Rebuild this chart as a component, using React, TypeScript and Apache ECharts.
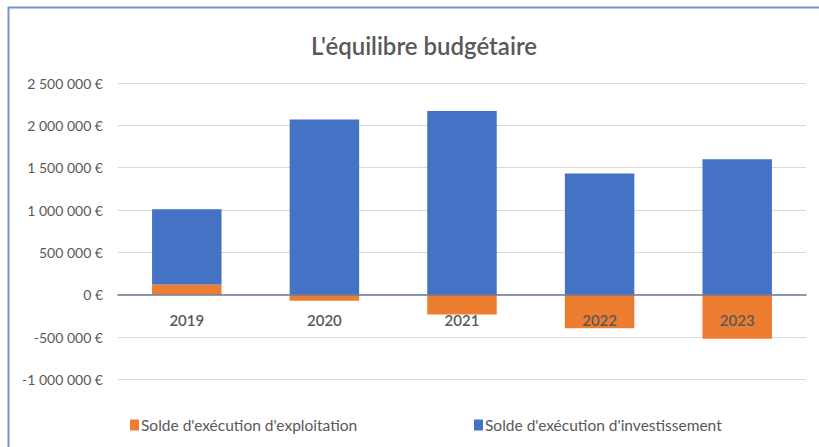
import React, { useEffect, useRef } from "react";
import * as echarts from "echarts";

const categories = ["2019", "2020", "2021", "2022", "2023"];
const exploitation = [120000, -70000, -235000, -395000, -520000];
const investissement = [890000, 2070000, 2170000, 1430000, 1600000];
const seriesNames = ["Solde d'exécution d'exploitation", "Solde d'exécution d'investissement"];
const titleText = "L'équilibre budgétaire";
const yMin = -1000000;
const yMax = 2500000;
const yStep = 500000;

const fmt = (v: number) => {
  const neg = v < 0;
  const s = Math.abs(v).toString().replace(/\B(?=(\d{3})+(?!\d))/g, " ");
  return (neg ? "-" : "") + s + " €";
};

export default function App() {
  const ref = useRef<HTMLDivElement>(null);
  useEffect(() => {
    if (!ref.current) return;
    const chart = echarts.init(ref.current, undefined, { renderer: "svg" });
    const font = "Lato, 'Noto Sans', sans-serif";
    const gridTop = 83;
    const gridBottom = 67.6;
    const gridH = 447 - gridTop - gridBottom;
    const zeroOffset = -gridH * (0 - yMin) / (yMax - yMin);
    chart.setOption({
      animation: false,
      backgroundColor: "#ffffff",
      textStyle: { fontFamily: font },
      title: {
        text: titleText,
        left: 419,
        textAlign: "center",
        top: 28,
        textStyle: { fontFamily: font, fontSize: 24, fontWeight: 600, color: "#595959" },
      },
      graphic: [
        {
          type: "rect",
          shape: { x: 8.5, y: 7.5, width: 900, height: 600 },
          style: { fill: "none", stroke: "#7395d8", lineWidth: 2 },
          silent: true,
        },
      ],
      legend: [
        {
          data: [seriesNames[0]],
          left: 125,
          top: 412,
          icon: "rect",
          itemWidth: 9,
          itemHeight: 11,
          textStyle: { fontFamily: font, fontSize: 15.5, color: "#595959", padding: [0, 0, 0, -3] },
        },
        {
          data: [seriesNames[1]],
          left: 469,
          top: 412,
          icon: "rect",
          itemWidth: 9,
          itemHeight: 11,
          textStyle: { fontFamily: font, fontSize: 15.5, color: "#595959", padding: [0, 0, 0, -3] },
        },
      ],
      grid: { left: 118, right: 13, top: gridTop, bottom: gridBottom, containLabel: false },
      xAxis: {
        type: "category",
        data: categories,
        z: 10,
        offset: zeroOffset,
        axisLine: { show: true, onZero: false, lineStyle: { color: "#6c7a96", width: 1.5 } },
        axisTick: { show: false },
        axisLabel: { margin: 18, color: "#595959", fontSize: 15, fontWeight: 600, fontFamily: font },
      },
      yAxis: {
        type: "value",
        min: yMin,
        max: yMax,
        interval: yStep,
        axisLine: { show: false },
        axisTick: { show: false },
        splitLine: { lineStyle: { color: "#d9d9d9", width: 1 } },
        axisLabel: { margin: 15, color: "#595959", fontSize: 14, fontFamily: font, formatter: (v: number) => fmt(v) },
      },
      series: [
        {
          name: seriesNames[0],
          type: "bar",
          stack: "total",
          barWidth: "50.5%",
          data: exploitation,
          itemStyle: { color: "#ED7D31" },
        },
        {
          name: seriesNames[1],
          type: "bar",
          stack: "total",
          barWidth: "50.5%",
          data: investissement,
          itemStyle: { color: "#4472C4" },
        },
      ],
    });
    return () => chart.dispose();
  }, []);
  return <div ref={ref} style={{ position: "absolute", left: 0, top: 0, width: 819, height: 447 }} />;
}
